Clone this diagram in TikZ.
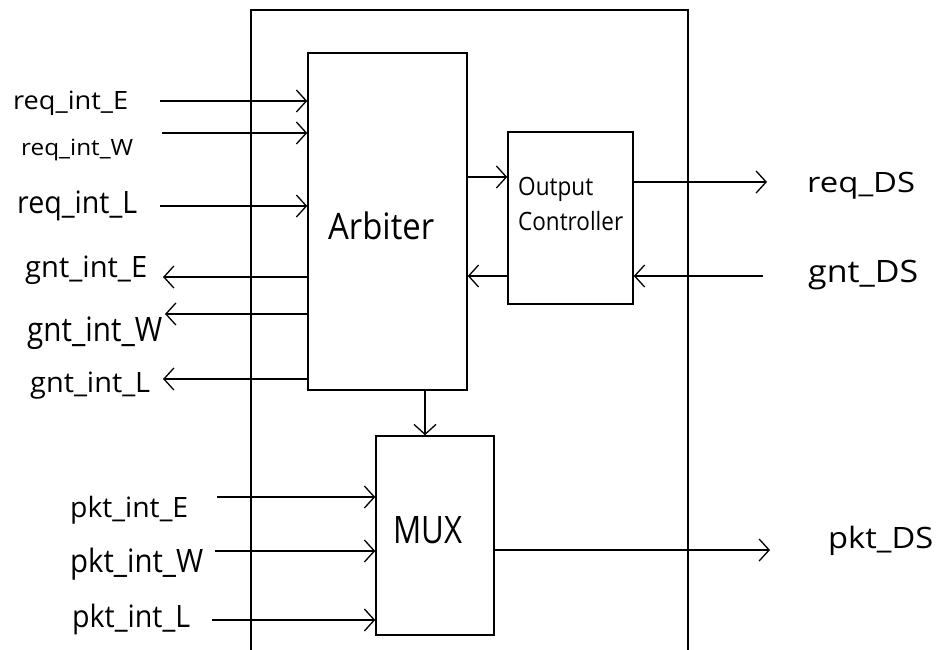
\documentclass[tikz,border=0pt]{standalone}
\usepackage{fontspec}
\usepackage{graphicx}
\setmainfont{Open Sans}
\usetikzlibrary{arrows.meta}
\newcommand\lab[3]{\resizebox{#1pt}{#2pt}{\rule{0pt}{7.14pt}\smash{\fontsize{10}{12}\selectfont #3}}}
\begin{document}
\begin{tikzpicture}[x=1pt,y=-1pt,
  wire/.style={line width=1.5pt,black},
  sig/.style={wire,-{Straight Barb[length=10pt,width=22pt,line width=1.3pt]}},
  blk/.style={draw,line width=1.5pt,rectangle,inner sep=0pt},
  txt/.style={inner sep=0pt,anchor=base west}]
\useasboundingbox (0,0) rectangle (938,650);
% outer frame (open at bottom)
\draw[wire] (251,650) -- (251,10) -- (688,10) -- (688,650);
% blocks
\node[blk,minimum width=159pt,minimum height=337pt] (arb) at (387.5,221.5) {};
\node[txt] (arbtxt) at (328,239) {\lab{106}{26}{Arbiter}};
\node[blk,minimum width=125pt,minimum height=172pt] (oc) at (570.5,218) {};
\node[inner sep=0pt,anchor=north west,align=left,font=\fontsize{10}{35}\selectfont] (octxt) at (518,177) {\lab{75}{18}{Output}\\\lab{105}{18}{Controller}};
\node[blk,minimum width=118pt,minimum height=199pt] (mux) at (435,535.5) {};
\node[txt] (muxtxt) at (393,543) {\lab{69}{27}{MUX}};
% left labels
\node[txt] (lreqE) at (13,110) {\lab{115}{18}{req\_int\_E}};
\node[txt] (lreqW) at (21,156) {\lab{112}{16}{req\_int\_W}};
\node[txt] (lreqL) at (17,213) {\lab{120}{22}{req\_int\_L}};
\node[txt] (lgntE) at (25,277) {\lab{122}{21}{gnt\_int\_E}};
\node[txt] (lgntW) at (27,341) {\lab{135}{24}{gnt\_int\_W}};
\node[txt] (lgntL) at (30,392) {\lab{120}{20}{gnt\_int\_L}};
\node[txt] (lpktE) at (70,517) {\lab{118}{20}{pkt\_int\_E}};
\node[txt] (lpktW) at (70,572) {\lab{133}{23}{pkt\_int\_W}};
\node[txt] (lpktL) at (72,627) {\lab{118}{22}{pkt\_int\_L}};
\node[txt] (lreqDS) at (807,193) {\lab{108}{20}{req\_DS}};
\node[txt] (lgntDS) at (808,282) {\lab{110}{22}{gnt\_DS}};
\node[txt] (lpktDS) at (828,548) {\lab{105}{21}{pkt\_DS}};
% free ends
\coordinate (creqE) at (160,101);
\coordinate (creqW) at (162,133);
\coordinate (creqL) at (160,206);
\coordinate (cgntE) at (163,277);
\coordinate (cgntW) at (165,314);
\coordinate (cgntL) at (163,379);
\coordinate (cpktE) at (217,497);
\coordinate (cpktW) at (215,551);
\coordinate (cpktL) at (212,620);
\coordinate (creqDS) at (767,182);
\coordinate (cgntDS) at (763,276);
\coordinate (cpktDS) at (770,550);
% connectors
\draw[sig] (creqE) -- (creqE -| arb.west);
\draw[sig] (creqW) -- (creqW -| arb.west);
\draw[sig] (creqL) -- (creqL -| arb.west);
\draw[sig] (cgntE -| arb.west) -- (cgntE);
\draw[sig] (cgntW -| arb.west) -- (cgntW);
\draw[sig] (cgntL -| arb.west) -- (cgntL);
\draw[sig] (cpktE) -- (cpktE -| mux.west);
\draw[sig] (cpktW) -- (cpktW -| mux.west);
\draw[sig] (cpktL) -- (cpktL -| mux.west);
\draw[sig] (arb.east |- 0,177) -- (oc.west |- 0,177);
\draw[sig] (oc.west |- 0,276) -- (arb.east |- 0,276);
\draw[sig] (oc.east |- creqDS) -- (creqDS);
\draw[sig] (cgntDS) -- (cgntDS -| oc.east);
\draw[sig] (mux.east |- cpktDS) -- (cpktDS);
\draw[sig] (arb.south -| 425,0) -- (mux.north -| 425,0);
\end{tikzpicture}
\end{document}
